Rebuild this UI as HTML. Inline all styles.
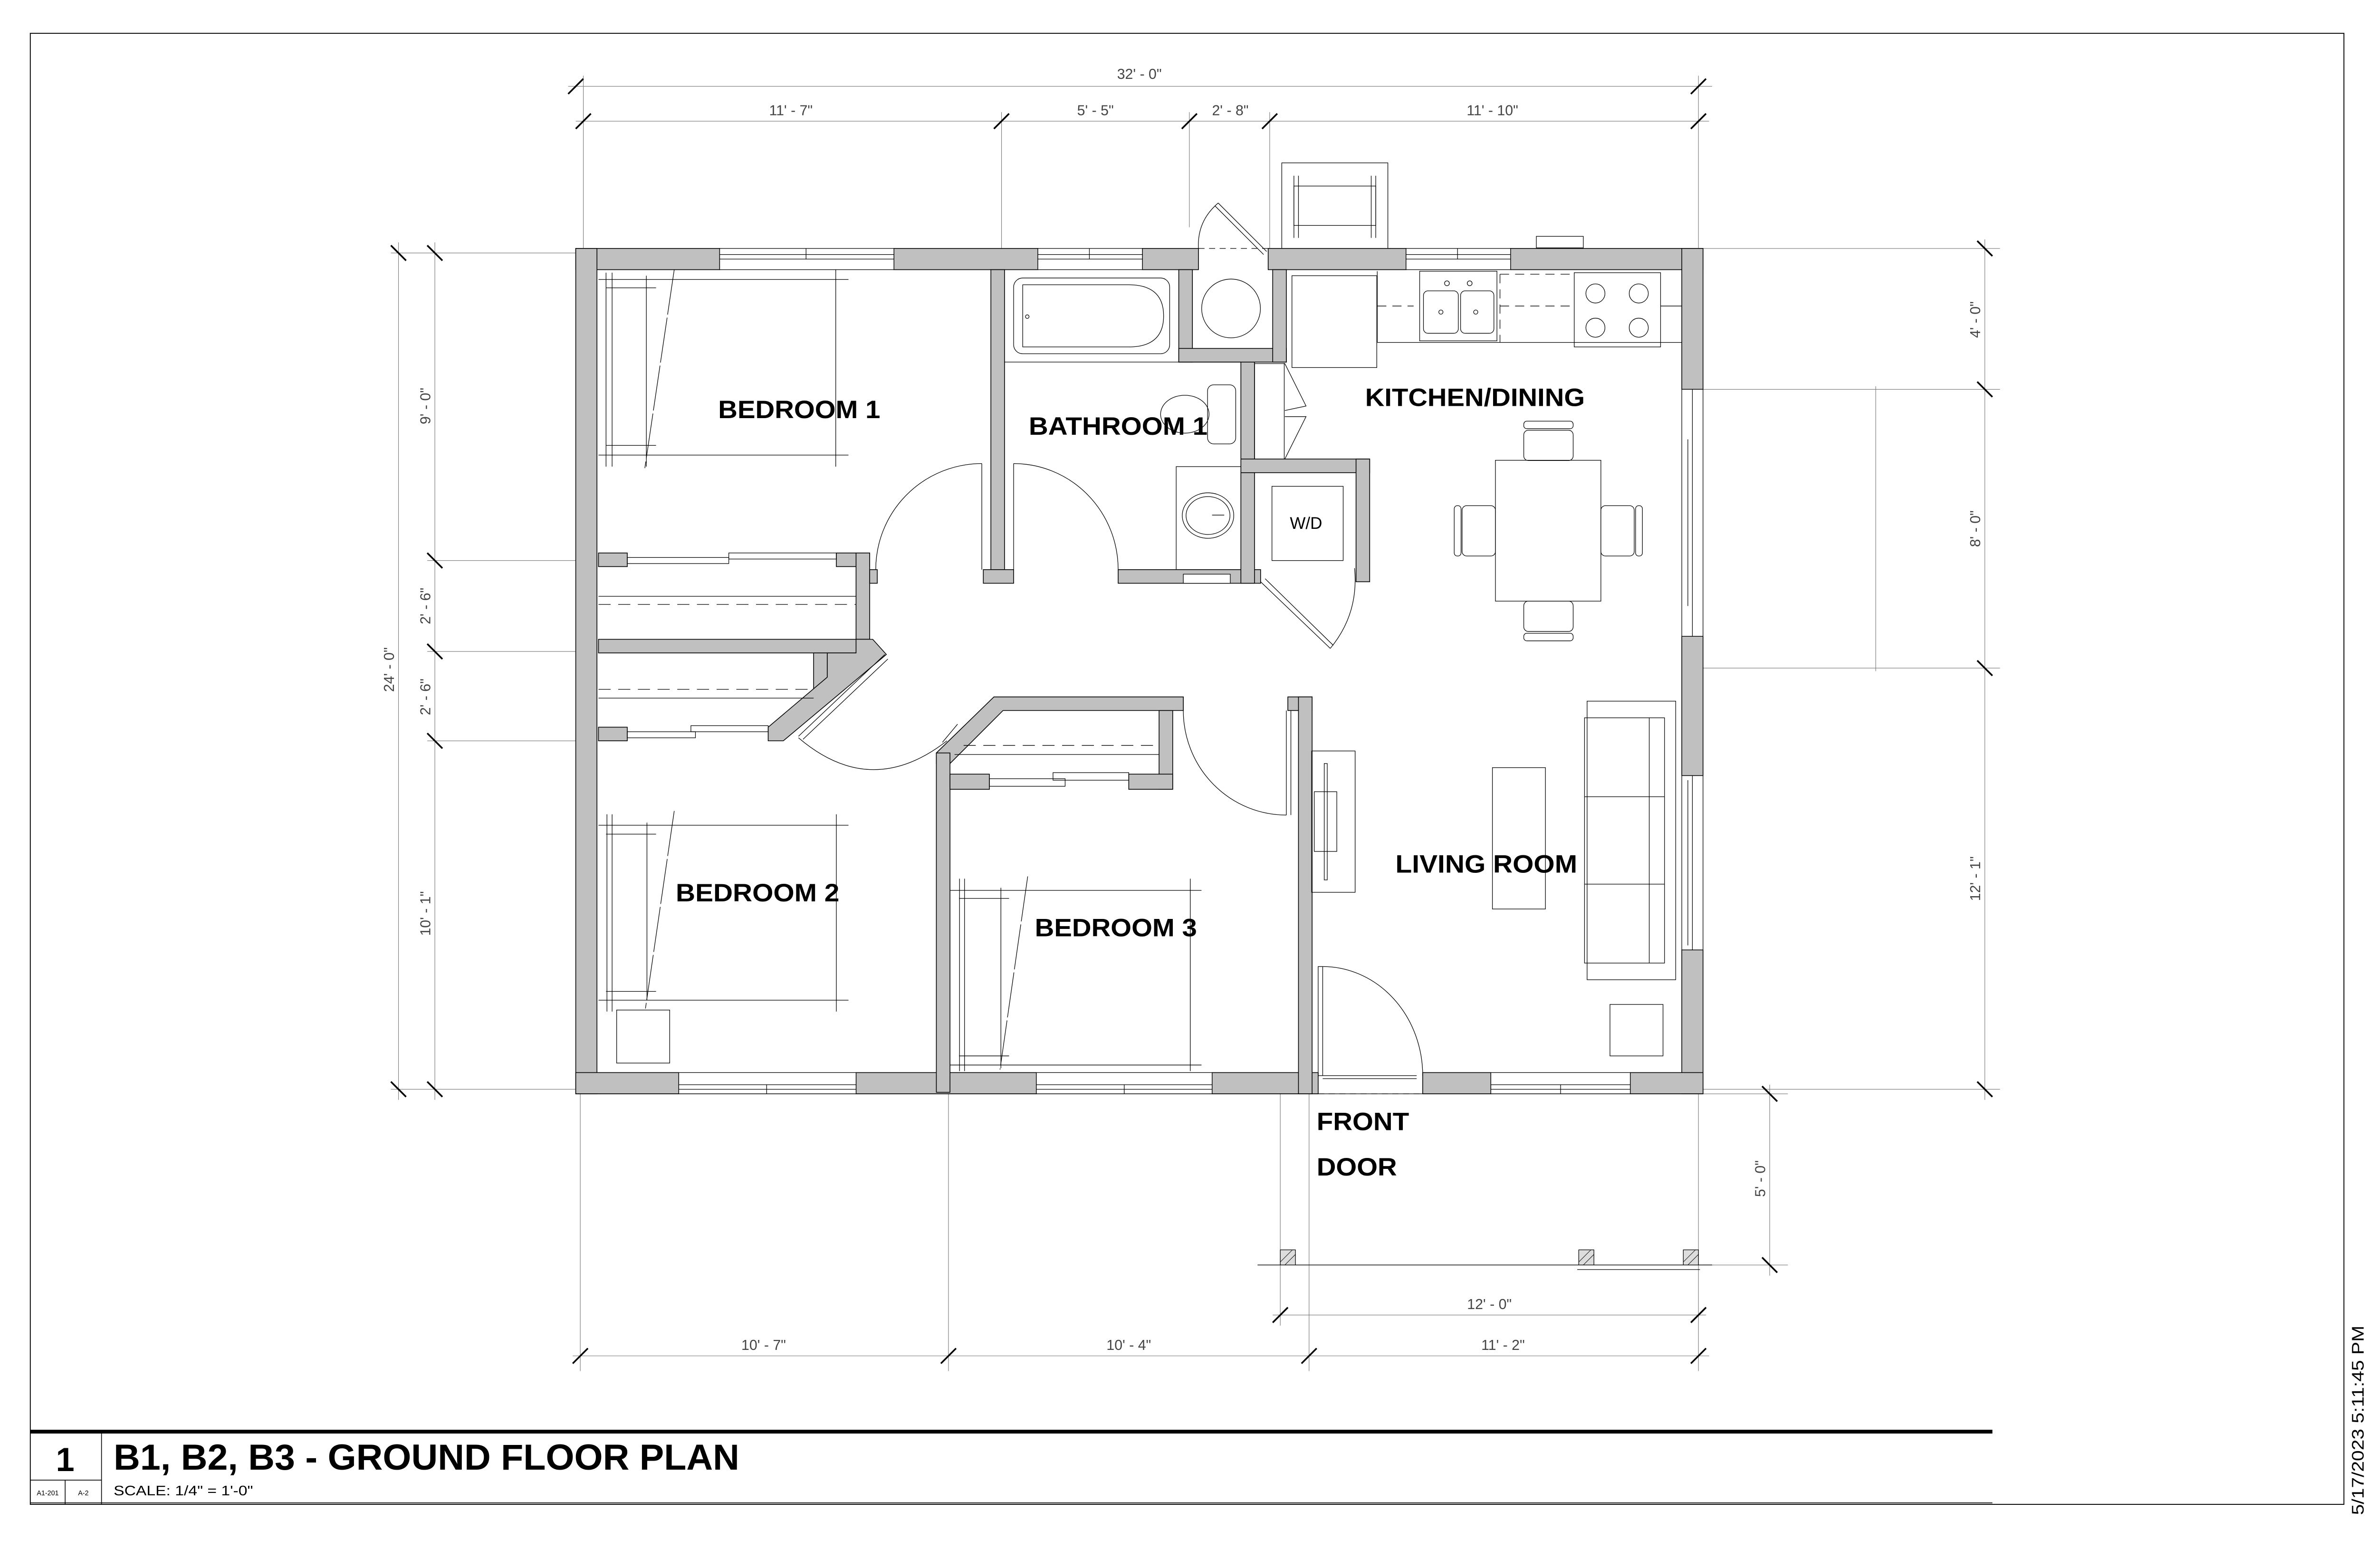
<!DOCTYPE html>
<html><head><meta charset="utf-8"><style>html,body{margin:0;padding:0;background:#fff}svg{display:block}</style></head>
<body>
<svg xmlns="http://www.w3.org/2000/svg" width="5100" height="3300" viewBox="0 0 1599 1035" preserveAspectRatio="xMinYMin meet" font-family="Liberation Sans, Arial, sans-serif">
<rect x="0" y="0" width="1599" height="1035" fill="#fff"/>
<!-- border -->
<rect x="20" y="22" width="1527" height="971" fill="none" stroke="#000" stroke-width="0.6"/>

<!-- extension / dimension lines -->
<g stroke="#777" stroke-width="0.35" fill="none">
<line x1="375" y1="57" x2="1130" y2="57"/>
<line x1="380" y1="80" x2="1128" y2="80"/>
<line x1="385" y1="50" x2="385" y2="164"/>
<line x1="661" y1="74" x2="661" y2="164"/>
<line x1="785" y1="74" x2="785" y2="150"/>
<line x1="838" y1="74" x2="838" y2="164"/>
<line x1="1121" y1="50" x2="1121" y2="164"/>
<line x1="263" y1="160" x2="263" y2="726"/>
<line x1="287" y1="160" x2="287" y2="726"/>
<line x1="258" y1="167" x2="380" y2="167"/>
<line x1="282" y1="370" x2="394" y2="370"/>
<line x1="282" y1="430" x2="394" y2="430"/>
<line x1="282" y1="489" x2="394" y2="489"/>
<line x1="258" y1="719" x2="380" y2="719"/>
<line x1="1124" y1="164" x2="1320" y2="164"/>
<line x1="1124" y1="257" x2="1320" y2="257"/>
<line x1="1124" y1="441" x2="1320" y2="441"/>
<line x1="1124" y1="719" x2="1320" y2="719"/>
<line x1="1310" y1="158" x2="1310" y2="726"/>
<line x1="1238" y1="255" x2="1238" y2="443"/>
<line x1="1168" y1="716" x2="1168" y2="842"/>
<line x1="1124" y1="722" x2="1180" y2="722"/>
<line x1="1124" y1="835" x2="1180" y2="835"/>
<line x1="383" y1="722" x2="383" y2="905"/>
<line x1="626" y1="722" x2="626" y2="905"/>
<line x1="864" y1="722" x2="864" y2="905"/>
<line x1="1121" y1="722" x2="1121" y2="905"/>
<line x1="845" y1="722" x2="845" y2="875"/>
<line x1="378" y1="895" x2="1128" y2="895"/>
<line x1="840" y1="868" x2="1126" y2="868"/>
</g>
<!-- ticks -->
<g stroke="#000" stroke-width="1.1">
<line x1="375" y1="62" x2="385" y2="52"/><line x1="1116" y1="62" x2="1126" y2="52"/>
<line x1="380" y1="85" x2="390" y2="75"/><line x1="656" y1="85" x2="666" y2="75"/><line x1="780" y1="85" x2="790" y2="75"/><line x1="833" y1="85" x2="843" y2="75"/><line x1="1116" y1="85" x2="1126" y2="75"/>
<line x1="258" y1="162" x2="268" y2="172"/><line x1="258" y1="714" x2="268" y2="724"/>
<line x1="282" y1="162" x2="292" y2="172"/><line x1="282" y1="365" x2="292" y2="375"/><line x1="282" y1="425" x2="292" y2="435"/><line x1="282" y1="484" x2="292" y2="494"/><line x1="282" y1="714" x2="292" y2="724"/>
<line x1="1305" y1="159" x2="1315" y2="169"/><line x1="1305" y1="252" x2="1315" y2="262"/><line x1="1305" y1="436" x2="1315" y2="446"/><line x1="1305" y1="714" x2="1315" y2="724"/>
<line x1="1163" y1="717" x2="1173" y2="727"/><line x1="1163" y1="830" x2="1173" y2="840"/>
<line x1="378" y1="900" x2="388" y2="890"/><line x1="621" y1="900" x2="631" y2="890"/><line x1="859" y1="900" x2="869" y2="890"/><line x1="1116" y1="900" x2="1126" y2="890"/>
<line x1="840" y1="873" x2="850" y2="863"/><line x1="1116" y1="873" x2="1126" y2="863"/>
</g>
<!-- dim text -->
<g fill="#444" font-size="9.5" text-anchor="middle">
<text x="752" y="52">32' - 0"</text>
<text x="522" y="76">11' - 7"</text>
<text x="723" y="76">5' - 5"</text>
<text x="812" y="76">2' - 8"</text>
<text x="985" y="76">11' - 10"</text>
<text transform="translate(260,442) rotate(-90)">24' - 0"</text>
<text transform="translate(284,268) rotate(-90)">9' - 0"</text>
<text transform="translate(284,400) rotate(-90)">2' - 6"</text>
<text transform="translate(284,460) rotate(-90)">2' - 6"</text>
<text transform="translate(284,603) rotate(-90)">10' - 1"</text>
<text transform="translate(1307,211) rotate(-90)">4' - 0"</text>
<text transform="translate(1307,349) rotate(-90)">8' - 0"</text>
<text transform="translate(1307,580) rotate(-90)">12' - 1"</text>
<text transform="translate(1165,778) rotate(-90)">5' - 0"</text>
<text x="983" y="864">12' - 0"</text>
<text x="504" y="891">10' - 7"</text>
<text x="745" y="891">10' - 4"</text>
<text x="992" y="891">11' - 2"</text>
</g>

<!-- porch -->
<g stroke="#000" stroke-width="0.4" fill="none">
<line x1="830" y1="835" x2="1130" y2="835"/>
<line x1="1041" y1="838" x2="1122" y2="838"/>
</g>
<g fill="#ddd" stroke="#000" stroke-width="0.4">
<rect x="845" y="825" width="10" height="10"/><rect x="1042" y="825" width="10" height="10"/><rect x="1111" y="825" width="10" height="10"/>
</g>
<g stroke="#000" stroke-width="0.3">
<line x1="845" y1="833" x2="853" y2="825"/><line x1="848" y1="835" x2="855" y2="828"/>
<line x1="1042" y1="833" x2="1050" y2="825"/><line x1="1045" y1="835" x2="1052" y2="828"/>
<line x1="1111" y1="833" x2="1119" y2="825"/><line x1="1114" y1="835" x2="1121" y2="828"/>
</g>

<!-- grill & vent above top -->
<g stroke="#000" stroke-width="0.4" fill="none">
<rect x="846" y="107.5" width="70" height="56.8"/>
<rect x="854" y="122.8" width="54" height="26"/>
<line x1="854" y1="116" x2="854" y2="157"/><line x1="908" y1="116" x2="908" y2="157"/>
<line x1="857" y1="116" x2="857" y2="157"/><line x1="905" y1="116" x2="905" y2="157"/>
<rect x="1014" y="156" width="31" height="7.6"/>
</g>

<!-- WALLS -->
<g fill="#c0c0c0" stroke="#000" stroke-width="0.5">
<rect x="380" y="164" width="95" height="14"/>
<rect x="590" y="164" width="95" height="14"/>
<rect x="754" y="164" width="37" height="14"/>
<rect x="837" y="164" width="91" height="14"/>
<rect x="997" y="164" width="127" height="14"/>
<rect x="380" y="164" width="14" height="558"/>
<rect x="1110" y="164" width="14" height="93"/>
<rect x="1110" y="420" width="14" height="92"/>
<rect x="1110" y="627" width="14" height="95"/>
<rect x="380" y="708" width="68" height="14"/>
<rect x="565" y="708" width="119" height="14"/>
<rect x="800" y="708" width="70" height="14"/>
<rect x="939" y="708" width="45" height="14"/>
<rect x="1076" y="708" width="48" height="14"/>
<!-- interior -->
<rect x="654" y="178" width="9" height="198"/>
<rect x="649" y="376" width="20" height="9"/>
<rect x="738" y="376" width="94" height="9"/>
<rect x="819" y="238" width="9" height="147"/>
<rect x="778" y="178" width="9" height="61"/>
<rect x="778" y="230" width="71" height="9"/>
<rect x="840" y="178" width="9" height="61"/>
<rect x="819" y="303" width="85" height="9"/>
<rect x="895" y="303" width="9" height="81"/>
<rect x="395" y="365" width="19" height="9"/>
<rect x="552" y="365" width="22" height="9"/>
<rect x="565" y="365" width="9" height="57"/>
<rect x="574" y="376" width="5" height="9"/>
<rect x="395" y="422" width="179" height="9"/>
<rect x="537" y="431" width="9" height="24"/>
<polygon points="565,422 576,422 585,432 517,489 507,489 507,480 546,447 546,431 565,431"/>
<rect x="395" y="480" width="19" height="9"/>
<polygon points="656,460 781,460 781,469 662,469 627,504 618,504 618,497"/>
<rect x="765" y="469" width="9" height="52"/>
<rect x="618" y="497" width="9" height="224"/>
<rect x="627" y="511" width="26" height="10"/>
<rect x="745" y="511" width="29" height="10"/>
<rect x="850" y="460" width="16" height="9"/>
<rect x="857" y="460" width="9" height="262"/>
</g>
<rect x="781" y="379" width="31" height="6" fill="#fff" stroke="#000" stroke-width="0.4"/>

<!-- WINDOWS -->
<g fill="#fff" stroke="#000" stroke-width="0.4">
<rect x="475" y="164" width="115" height="14"/><line x1="475" y1="168" x2="590" y2="168"/><line x1="475" y1="171" x2="590" y2="171"/><line x1="532" y1="164" x2="532" y2="171"/>
<rect x="685" y="164" width="69" height="14"/><line x1="685" y1="168" x2="754" y2="168"/><line x1="685" y1="171" x2="754" y2="171"/><line x1="719" y1="164" x2="719" y2="171"/>
<rect x="928" y="164" width="69" height="14"/><line x1="928" y1="168" x2="997" y2="168"/><line x1="928" y1="171" x2="997" y2="171"/><line x1="962" y1="164" x2="962" y2="171"/>
<rect x="1110" y="257" width="14" height="163"/><line x1="1117" y1="257" x2="1117" y2="420"/><line x1="1114" y1="290" x2="1114" y2="400"/>
<rect x="1110" y="512" width="14" height="115"/><line x1="1117" y1="512" x2="1117" y2="627"/><line x1="1114" y1="515" x2="1114" y2="624"/>
<rect x="448" y="708" width="117" height="14"/><line x1="448" y1="716" x2="565" y2="716"/><line x1="448" y1="719" x2="565" y2="719"/><line x1="506" y1="716" x2="506" y2="722"/>
<rect x="684" y="708" width="116" height="14"/><line x1="684" y1="716" x2="800" y2="716"/><line x1="684" y1="719" x2="800" y2="719"/><line x1="742" y1="716" x2="742" y2="722"/>
<rect x="984" y="708" width="92" height="14"/><line x1="984" y1="716" x2="1076" y2="716"/><line x1="984" y1="719" x2="1076" y2="719"/><line x1="1030" y1="716" x2="1030" y2="722"/>
</g>
<line x1="870" y1="722" x2="939" y2="722" stroke="#000" stroke-width="0.4" stroke-dasharray="4,3"/>
<line x1="791" y1="164" x2="837" y2="164" stroke="#000" stroke-width="0.4" stroke-dasharray="4,3"/>
<line x1="380" y1="722" x2="1124" y2="722" stroke="#000" stroke-width="0.4"/>

<!-- DOORS, closets, fixtures -->
<g stroke="#000" stroke-width="0.4" fill="none">
<line x1="648" y1="306" x2="648" y2="376"/><path d="M648,306 A70,70 0 0 0 578,376"/>
<line x1="669" y1="306" x2="669" y2="376"/><path d="M669,306 A69,70 0 0 1 738,376"/>
<line x1="849" y1="469" x2="849" y2="538"/><line x1="852" y1="469" x2="852" y2="538"/><path d="M781,469 A68,69 0 0 0 849,538"/>
<rect x="870" y="638" width="3" height="72"/><path d="M873,638 A66,72 0 0 1 939,710"/>
<line x1="873" y1="710" x2="935" y2="710"/><line x1="873" y1="712" x2="935" y2="712"/>
<line x1="527" y1="486" x2="584" y2="432"/><line x1="530" y1="488" x2="586" y2="435"/>
<path d="M527,487 Q575,528 625,489"/>
<line x1="622" y1="490" x2="632" y2="478"/>
<line x1="832" y1="384" x2="878" y2="428"/><line x1="835" y1="382" x2="880" y2="426"/>
<path d="M878,428 Q897,405 894,375"/>
<line x1="804" y1="134" x2="836" y2="166"/><line x1="802" y1="136" x2="834" y2="168"/>
<path d="M804,134 Q790,146 791,164"/>
<line x1="828" y1="240" x2="828" y2="303"/>
<line x1="847.6" y1="239.6" x2="847.6" y2="303"/>
<polyline points="848,240 862,268 848,271"/>
<polyline points="848,275 862,275 848,303"/>
<line x1="828" y1="240" x2="848" y2="240"/>
<rect x="414" y="368" width="67" height="4"/><rect x="481" y="365" width="71" height="4"/>
<line x1="395" y1="393.6" x2="565" y2="393.6"/>
<line x1="395" y1="399" x2="565" y2="399" stroke-dasharray="8,5"/>
<rect x="414" y="483" width="45" height="4"/><rect x="456" y="479" width="51" height="4"/>
<line x1="395" y1="460.8" x2="537" y2="460.8"/>
<line x1="395" y1="455" x2="537" y2="455" stroke-dasharray="8,5"/>
<rect x="653" y="514" width="50" height="5"/><rect x="695" y="510" width="50" height="5"/>
<line x1="630" y1="498" x2="765" y2="498"/>
<line x1="636" y1="492" x2="765" y2="492" stroke-dasharray="8,5"/>
<line x1="395" y1="184.5" x2="560" y2="184.5"/><line x1="395" y1="300.4" x2="560" y2="300.4"/>
<line x1="551.6" y1="178" x2="551.6" y2="308"/>
<line x1="400" y1="180" x2="400" y2="308"/><line x1="404" y1="180" x2="404" y2="308"/>
<line x1="426.6" y1="182" x2="426.6" y2="308"/>
<line x1="400" y1="190" x2="433" y2="190"/><line x1="400" y1="294" x2="433" y2="294"/>
<line x1="445" y1="178" x2="425.6" y2="309" stroke-dasharray="30,2"/>
<line x1="395" y1="544.7" x2="560" y2="544.7"/><line x1="395" y1="660.2" x2="560" y2="660.2"/>
<line x1="552" y1="537.5" x2="552" y2="667.7"/>
<line x1="400.6" y1="537.5" x2="400.6" y2="667.7"/><line x1="404" y1="537.5" x2="404" y2="667.7"/>
<line x1="427" y1="543" x2="427" y2="660"/>
<line x1="400" y1="550.6" x2="433" y2="550.6"/><line x1="400" y1="654.4" x2="433" y2="654.4"/>
<line x1="445" y1="535.3" x2="426" y2="665.7" stroke-dasharray="30,2"/>
<rect x="407" y="666.7" width="35" height="35"/>
<line x1="627" y1="587.7" x2="793" y2="587.7"/><line x1="627" y1="703" x2="793" y2="703"/>
<line x1="785.6" y1="580" x2="785.6" y2="707"/>
<line x1="633.3" y1="580" x2="633.3" y2="707"/><line x1="636.6" y1="580" x2="636.6" y2="707"/>
<line x1="660.6" y1="586" x2="660.6" y2="705"/>
<line x1="633" y1="593" x2="666" y2="593"/><line x1="633" y1="697" x2="666" y2="697"/>
<line x1="678.3" y1="578.5" x2="660" y2="706" stroke-dasharray="30,2"/>
<line x1="663" y1="239" x2="819" y2="239"/>
<rect x="669" y="183.5" width="103" height="50" rx="6"/>
<path d="M675,188 H745 Q768,188 768,208.5 Q768,229 745,229 H675 Z"/>
<circle cx="678" cy="209" r="1.2"/>
<rect x="797" y="254" width="18.6" height="39" rx="4"/>
<ellipse cx="782" cy="273.4" rx="16" ry="12.5"/>
<rect x="776.3" y="308" width="42.7" height="68"/>
<ellipse cx="797.3" cy="340.3" rx="17" ry="15"/><ellipse cx="797.3" cy="340.3" rx="14.5" ry="12.5"/>
<line x1="800" y1="340" x2="808" y2="340"/>
<circle cx="812.5" cy="203.6" r="19.4"/>
<rect x="839.5" y="321" width="47" height="49"/>
<rect x="852.7" y="182" width="56" height="60.6"/>
<line x1="909" y1="226" x2="1110" y2="226"/>
<line x1="909" y1="179" x2="909" y2="226"/>
<line x1="909" y1="202" x2="933" y2="202" stroke-dasharray="6,4"/>
<line x1="990" y1="202" x2="1037" y2="202" stroke-dasharray="6,4"/>
<line x1="990" y1="181" x2="1037" y2="181" stroke-dasharray="6,4"/>
<line x1="990" y1="181" x2="990" y2="226" stroke-dasharray="6,4"/>
<rect x="937" y="179" width="51" height="46"/>
<rect x="939.5" y="192" width="23" height="28" rx="3"/><rect x="964" y="192" width="22" height="28" rx="3"/>
<circle cx="955" cy="187" r="1.6"/><circle cx="970" cy="187" r="1.6"/><circle cx="951" cy="206" r="1.4"/><circle cx="974" cy="206" r="1.4"/>
<rect x="1039" y="180" width="57" height="49"/>
<circle cx="1053" cy="193.7" r="6.3"/><circle cx="1081.6" cy="193.7" r="6.3"/><circle cx="1053" cy="216.3" r="6.3"/><circle cx="1081.6" cy="216.3" r="6.3"/>
<line x1="1096" y1="202" x2="1110" y2="202"/>
<rect x="987" y="303.8" width="69.6" height="93"/>
<rect x="1005.7" y="284" width="32.6" height="20" rx="3"/><rect x="1005.7" y="278" width="32.6" height="5" rx="2"/>
<rect x="1005.7" y="396.8" width="32.6" height="20" rx="3"/><rect x="1005.7" y="418" width="32.6" height="5" rx="2"/>
<rect x="965" y="333.8" width="22" height="33.2" rx="3"/><rect x="959.8" y="333.8" width="4.5" height="33.2" rx="2"/>
<rect x="1056.6" y="333.8" width="22" height="33.2" rx="3"/><rect x="1079.5" y="333.8" width="4.5" height="33.2" rx="2"/>
<rect x="865.7" y="495.7" width="28.7" height="93.3"/>
<rect x="867.4" y="522.6" width="14.9" height="39.4"/>
<rect x="874" y="504" width="2" height="76.8"/>
<rect x="985" y="506.7" width="35" height="93.3"/>
<rect x="1047.5" y="462.8" width="58.5" height="183.9"/>
<rect x="1045.8" y="473.8" width="52.8" height="161.9"/>
<line x1="1045.8" y1="525.9" x2="1098.6" y2="525.9"/><line x1="1045.8" y1="583.6" x2="1098.6" y2="583.6"/>
<line x1="1088.5" y1="473.8" x2="1088.5" y2="635.7"/>
<rect x="1062.6" y="663" width="35" height="34"/>
</g>

<!-- labels -->
<g font-weight="bold" fill="#000" font-size="16.5">
<text x="474" y="276" textLength="107" lengthAdjust="spacingAndGlyphs">BEDROOM 1</text>
<text x="679" y="287" textLength="118" lengthAdjust="spacingAndGlyphs">BATHROOM 1</text>
<text x="901" y="268" textLength="145" lengthAdjust="spacingAndGlyphs">KITCHEN/DINING</text>
<text x="446" y="595" textLength="108" lengthAdjust="spacingAndGlyphs">BEDROOM 2</text>
<text x="683" y="618" textLength="107" lengthAdjust="spacingAndGlyphs">BEDROOM 3</text>
<text x="921" y="576" textLength="120" lengthAdjust="spacingAndGlyphs">LIVING ROOM</text>
<text x="869" y="746" textLength="61" lengthAdjust="spacingAndGlyphs">FRONT</text>
<text x="869" y="776" textLength="53" lengthAdjust="spacingAndGlyphs">DOOR</text>
</g>
<text x="862" y="349" font-size="11" text-anchor="middle" fill="#000">W/D</text>

<!-- title block -->
<line x1="20" y1="945" x2="1315" y2="945" stroke="#000" stroke-width="2.5"/>
<g stroke="#000" stroke-width="0.5" fill="none">
<line x1="67" y1="945" x2="67" y2="993"/>
<line x1="20" y1="977" x2="67" y2="977"/>
<line x1="43" y1="977" x2="43" y2="993"/>
<line x1="20" y1="992" x2="1315" y2="992"/>
</g>
<text x="43" y="971" font-size="22" font-weight="bold" text-anchor="middle">1</text>
<text x="75" y="970" font-size="24" font-weight="bold" textLength="413" lengthAdjust="spacingAndGlyphs">B1, B2, B3 - GROUND FLOOR PLAN</text>
<text x="75" y="987" font-size="9" textLength="92" lengthAdjust="spacingAndGlyphs">SCALE:  1/4" = 1'-0"</text>
<text x="31.5" y="987" font-size="4.5" text-anchor="middle">A1-201</text>
<text x="55" y="987" font-size="4.5" text-anchor="middle">A-2</text>
<text transform="translate(1560,1000) rotate(-90)" font-size="11" textLength="125" lengthAdjust="spacingAndGlyphs">5/17/2023 5:11:45 PM</text>
</svg>
</body></html>
